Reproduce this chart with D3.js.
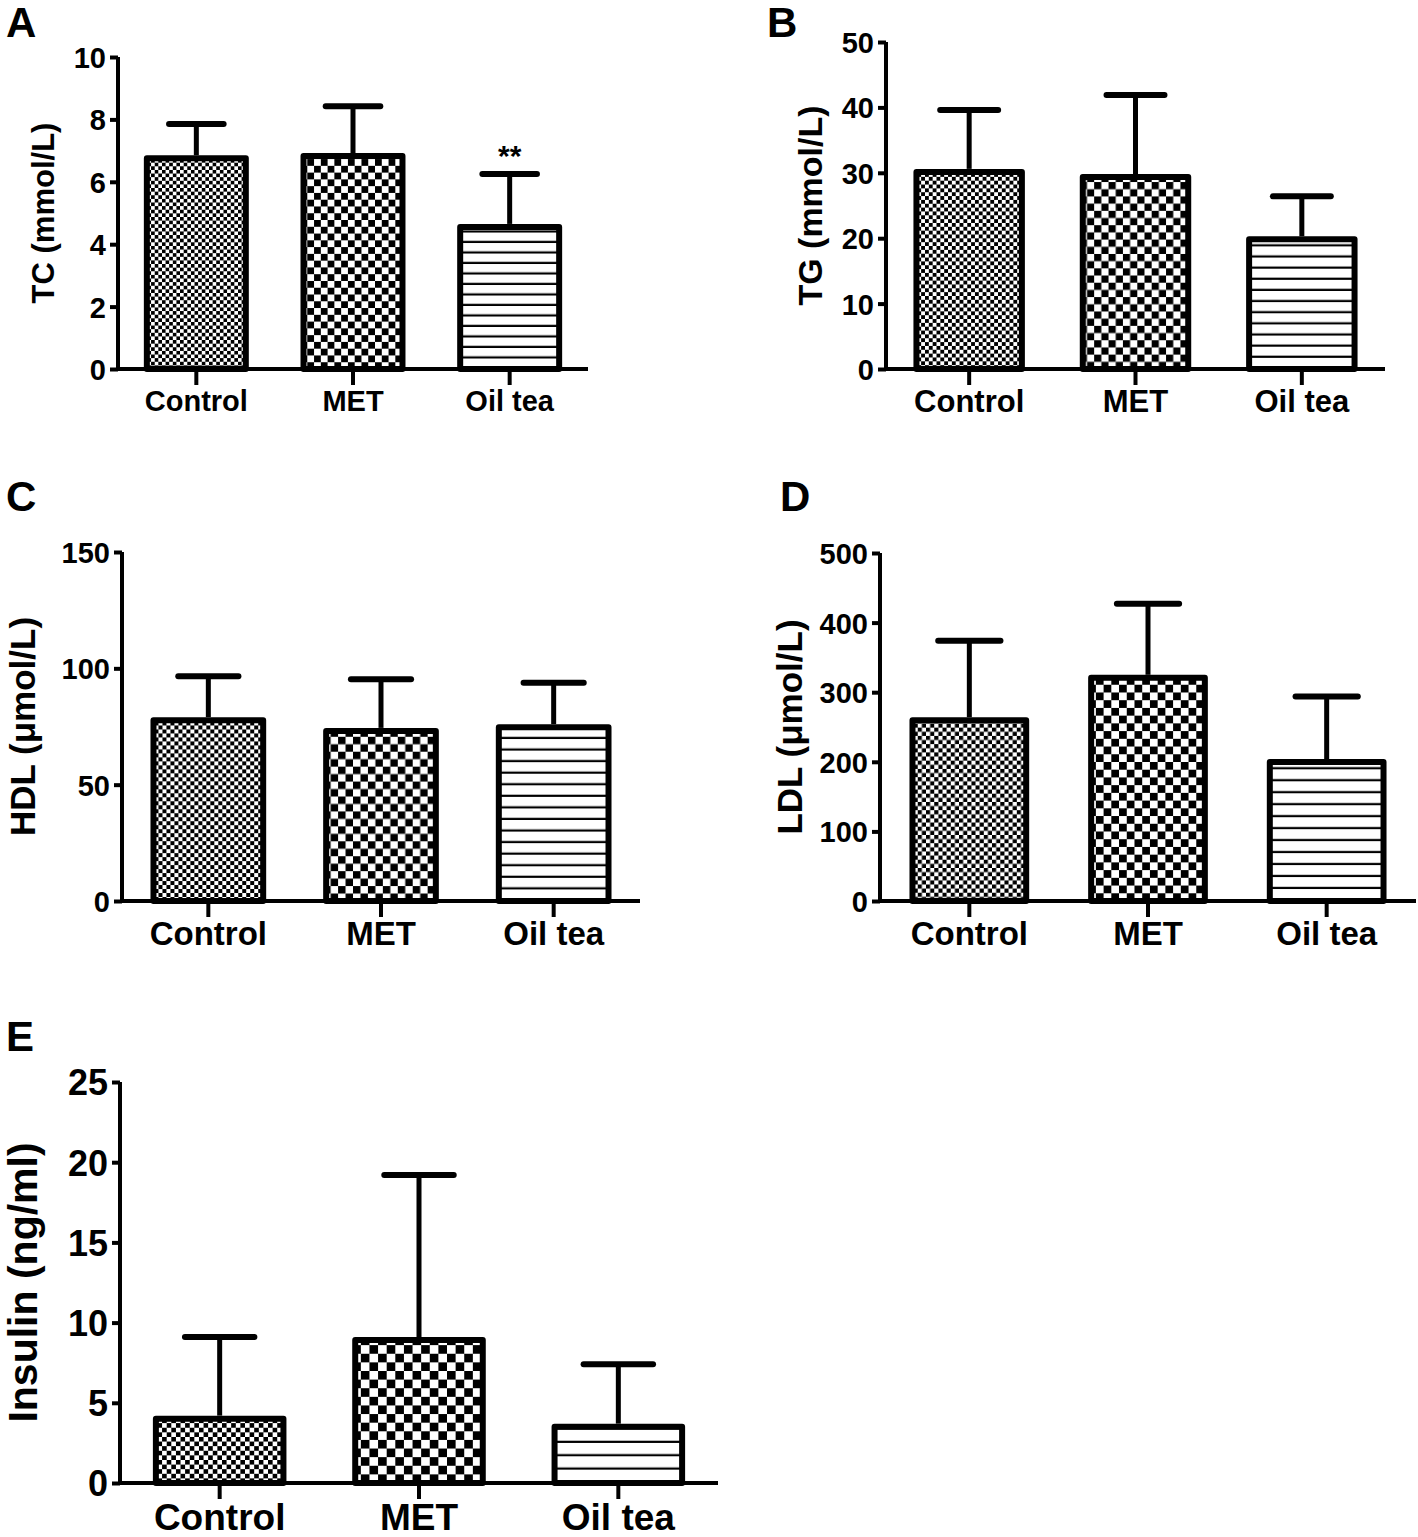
<!DOCTYPE html>
<html><head><meta charset="utf-8">
<script src="https://cdn.jsdelivr.net/npm/d3@7"></script>
<style>
html,body{margin:0;padding:0;background:#fff;}
svg{display:block;}
text{font-family:"Liberation Sans",Arial,Helvetica,sans-serif;font-weight:bold;fill:#000;}
</style></head>
<body>
<script>
const categories = ["Control", "MET", "Oil tea"];

const tcMean = [6.85, 6.92, 4.65];
const tcSD = [1.0, 1.5, 1.6];
const tcTicks = [0, 2, 4, 6, 8, 10];

const tgMean = [30.6, 29.8, 20.3];
const tgSD = [9.0, 12.1, 6.1];
const tgTicks = [0, 10, 20, 30, 40, 50];

const hdlMean = [79, 74.4, 76];
const hdlSD = [17.6, 20.9, 17.8];
const hdlTicks = [0, 50, 100, 150];

const ldlMean = [264, 325, 204];
const ldlSD = [110, 102, 90];
const ldlTicks = [0, 100, 200, 300, 400, 500];

const insMean = [4.2, 9.1, 3.7];
const insSD = [4.9, 10.1, 3.7];
const insTicks = [0, 5, 10, 15, 20, 25];

const panelLetters = ["A", "B", "C", "D", "E"];
const yLabels = ["TC (mmol/L)", "TG (mmol/L)", "HDL (\u03bcmol/L)", "LDL (\u03bcmol/L)", "Insulin (ng/ml)"];
const significance = [["", "", "**"], ["", "", ""], ["", "", ""], ["", "", ""], ["", "", ""]];

const W = 1418, H = 1537;
const svg = d3.select("body").append("svg").attr("width", W).attr("height", H);
const defs = svg.append("defs");

// layout (geometry only)
const panels = [
  {mean: tcMean, sd: tcSD, ticks: tcTicks, x0: 118, x1: 588, yTop: 57, yBot: 369, letterX: 6, letterY: 37, ylabX: 43, tickFs: 29, xFs: 29, yFs: 31, letterFs: 42},
  {mean: tgMean, sd: tgSD, ticks: tgTicks, x0: 886, x1: 1385, yTop: 42, yBot: 369, letterX: 767, letterY: 37, ylabX: 810, tickFs: 29, xFs: 31, yFs: 34, letterFs: 42},
  {mean: hdlMean, sd: hdlSD, ticks: hdlTicks, x0: 122, x1: 640, yTop: 552, yBot: 901, letterX: 6, letterY: 511, ylabX: 22, tickFs: 29, xFs: 33, yFs: 35, letterFs: 42},
  {mean: ldlMean, sd: ldlSD, ticks: ldlTicks, x0: 880, x1: 1416, yTop: 553, yBot: 901, letterX: 780, letterY: 511, ylabX: 789, tickFs: 29, xFs: 33, yFs: 35, letterFs: 42},
  {mean: insMean, sd: insSD, ticks: insTicks, x0: 120, x1: 718, yTop: 1082, yBot: 1483, letterX: 6, letterY: 1051, ylabX: 22, tickFs: 36, xFs: 37, yFs: 41, letterFs: 42}
];

function checker(id, x0, y0, cell) {
  const p = defs.append("pattern").attr("id", id).attr("patternUnits", "userSpaceOnUse")
    .attr("x", x0).attr("y", y0).attr("width", cell * 2).attr("height", cell * 2);
  p.append("rect").attr("width", cell * 2).attr("height", cell * 2).attr("fill", "#fff");
  p.append("rect").attr("width", cell).attr("height", cell).attr("fill", "#000");
  p.append("rect").attr("x", cell).attr("y", cell).attr("width", cell).attr("height", cell).attr("fill", "#000");
}

function makePatterns(pid, bars, yBase) {
  checker(pid + "-0", bars[0].x, yBase, bars[0].w / 29);
  checker(pid + "-1", bars[1].x, yBase, bars[1].w / 15.5);
  const gap = bars[2].w / 10;
  const p3 = defs.append("pattern").attr("id", pid + "-2").attr("patternUnits", "userSpaceOnUse")
    .attr("x", bars[2].x).attr("y", yBase).attr("width", 20).attr("height", gap);
  p3.append("rect").attr("width", 20).attr("height", gap).attr("fill", "#fff");
  p3.append("rect").attr("y", gap - 2.2).attr("width", 20).attr("height", 2.2).attr("fill", "#000");
}

panels.forEach((p, pi) => {
  const g = svg.append("g");
  const x = d3.scaleBand().domain(categories).range([p.x0, p.x1]).paddingInner(0.33).paddingOuter(0.165);
  const y = d3.scaleLinear().domain([p.ticks[0], p.ticks[p.ticks.length - 1]]).range([p.yBot, p.yTop]);
  const bw = x.bandwidth();

  const bars = categories.map(c => ({x: x(c), w: bw}));
  makePatterns("pat" + pi, bars, p.yBot);

  // error bars (upper only)
  const capW = bw * 0.52;
  categories.forEach((c, i) => {
    const cx = x(c) + bw / 2;
    g.append("line").attr("x1", cx).attr("x2", cx)
      .attr("y1", y(p.mean[i])).attr("y2", y(p.mean[i] + p.sd[i]))
      .attr("stroke", "#000").attr("stroke-width", 5);
    g.append("line").attr("x1", cx - capW / 2).attr("x2", cx + capW / 2)
      .attr("y1", y(p.mean[i] + p.sd[i])).attr("y2", y(p.mean[i] + p.sd[i]))
      .attr("stroke", "#000").attr("stroke-width", 6).attr("stroke-linecap", "round");
  });

  // bars
  g.selectAll("rect.bar").data(categories).enter().append("rect").attr("class", "bar")
    .attr("x", c => x(c) + 3).attr("width", bw - 6)
    .attr("y", (c, i) => y(p.mean[i]) + 3)
    .attr("height", (c, i) => p.yBot - y(p.mean[i]) - 3)
    .attr("fill", (c, i) => `url(#pat${pi}-${i})`)
    .attr("stroke", "#000").attr("stroke-width", 6).attr("stroke-linejoin", "round");

  // y axis
  const yAxis = d3.axisLeft(y).tickValues(p.ticks).tickSize(8).tickPadding(4).tickFormat(d3.format("d"));
  const ya = g.append("g").attr("transform", `translate(${p.x0},0)`).call(yAxis);
  ya.attr("font-family", null).attr("font-size", null);
  ya.select(".domain").attr("stroke", "#000").attr("stroke-width", 4).attr("d", `M0,${p.yTop}V${p.yBot}`);
  ya.selectAll(".tick line").attr("stroke", "#000").attr("stroke-width", 4);
  ya.selectAll(".tick text").attr("font-size", p.tickFs).attr("dy", "0.36em");

  // x axis
  const xAxis = d3.axisBottom(x).tickSize(16).tickPadding(5);
  const xa = g.append("g").attr("transform", `translate(0,${p.yBot})`).call(xAxis);
  xa.attr("font-family", null).attr("font-size", null);
  xa.select(".domain").attr("stroke", "#000").attr("stroke-width", 4).attr("d", `M${p.x0 - 2},0H${p.x1}`);
  xa.selectAll(".tick line").attr("stroke", "#000").attr("stroke-width", 4);
  xa.selectAll(".tick text").attr("font-size", p.xFs);

  // y label
  g.append("text").attr("transform", `translate(${p.ylabX},${(p.yTop + p.yBot) / 2}) rotate(-90)`)
    .attr("text-anchor", "middle").attr("dy", "0.36em").attr("font-size", p.yFs).text(yLabels[pi]);

  // panel letter
  g.append("text").attr("x", p.letterX).attr("y", p.letterY).attr("font-size", p.letterFs).text(panelLetters[pi]);

  // significance
  categories.forEach((c, i) => {
    if (significance[pi][i]) {
      g.append("text").attr("x", x(c) + bw / 2).attr("y", y(p.mean[i] + p.sd[i]) - 8)
        .attr("text-anchor", "middle").attr("font-size", 30).attr("font-weight", "normal").text(significance[pi][i]);
    }
  });
});
</script>
</body></html>
